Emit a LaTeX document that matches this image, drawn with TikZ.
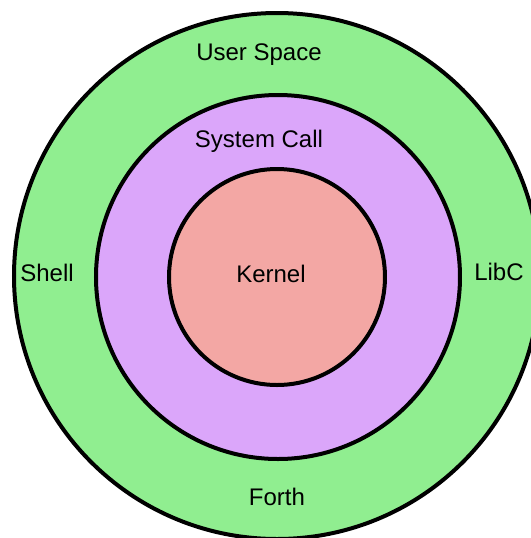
\documentclass[tikz,border=0pt]{standalone}
\usepackage{fontspec}
\setmainfont{Liberation Sans}
\usepackage{tikz}
\definecolor{userspace}{RGB}{144,238,144}
\definecolor{syscall}{RGB}{219,166,250}
\definecolor{kernel}{RGB}{243,167,164}
\tikzset{
ring/.style={ % Sets the properties for each ring
circle,
draw=black,
line width=2pt,
inner sep=0pt},
ringlabel/.style={ % Text placed on a ring
font=\fontsize{12}{14}\selectfont,
inner sep=0pt}}

\begin{document}
\begin{tikzpicture}[x=0.5pt,y=-0.5pt]
\useasboundingbox (0,0) rectangle (531,538);
\clip (0,0) rectangle (531,538);
\node[ring, fill=userspace, minimum size=263pt] (user) at (277,276) {};
\node[ring, fill=syscall, minimum size=182pt] (call) at (278,277) {};
\node[ring, fill=kernel, minimum size=108pt] (kern) at (277,277) {};
\node[ringlabel] (userlbl) at (259,55) {User Space};
\node[ringlabel] (calllbl) at (259,141) {System Call};
\node[ringlabel] (shell) at (47,273) {Shell};
\node[ringlabel] (libc) at (499,272) {LibC};
\node[ringlabel] (kernlbl) at (271,274) {Kernel};
\node[ringlabel] (forth) at (277,497) {Forth};
\end{tikzpicture}
\end{document}
